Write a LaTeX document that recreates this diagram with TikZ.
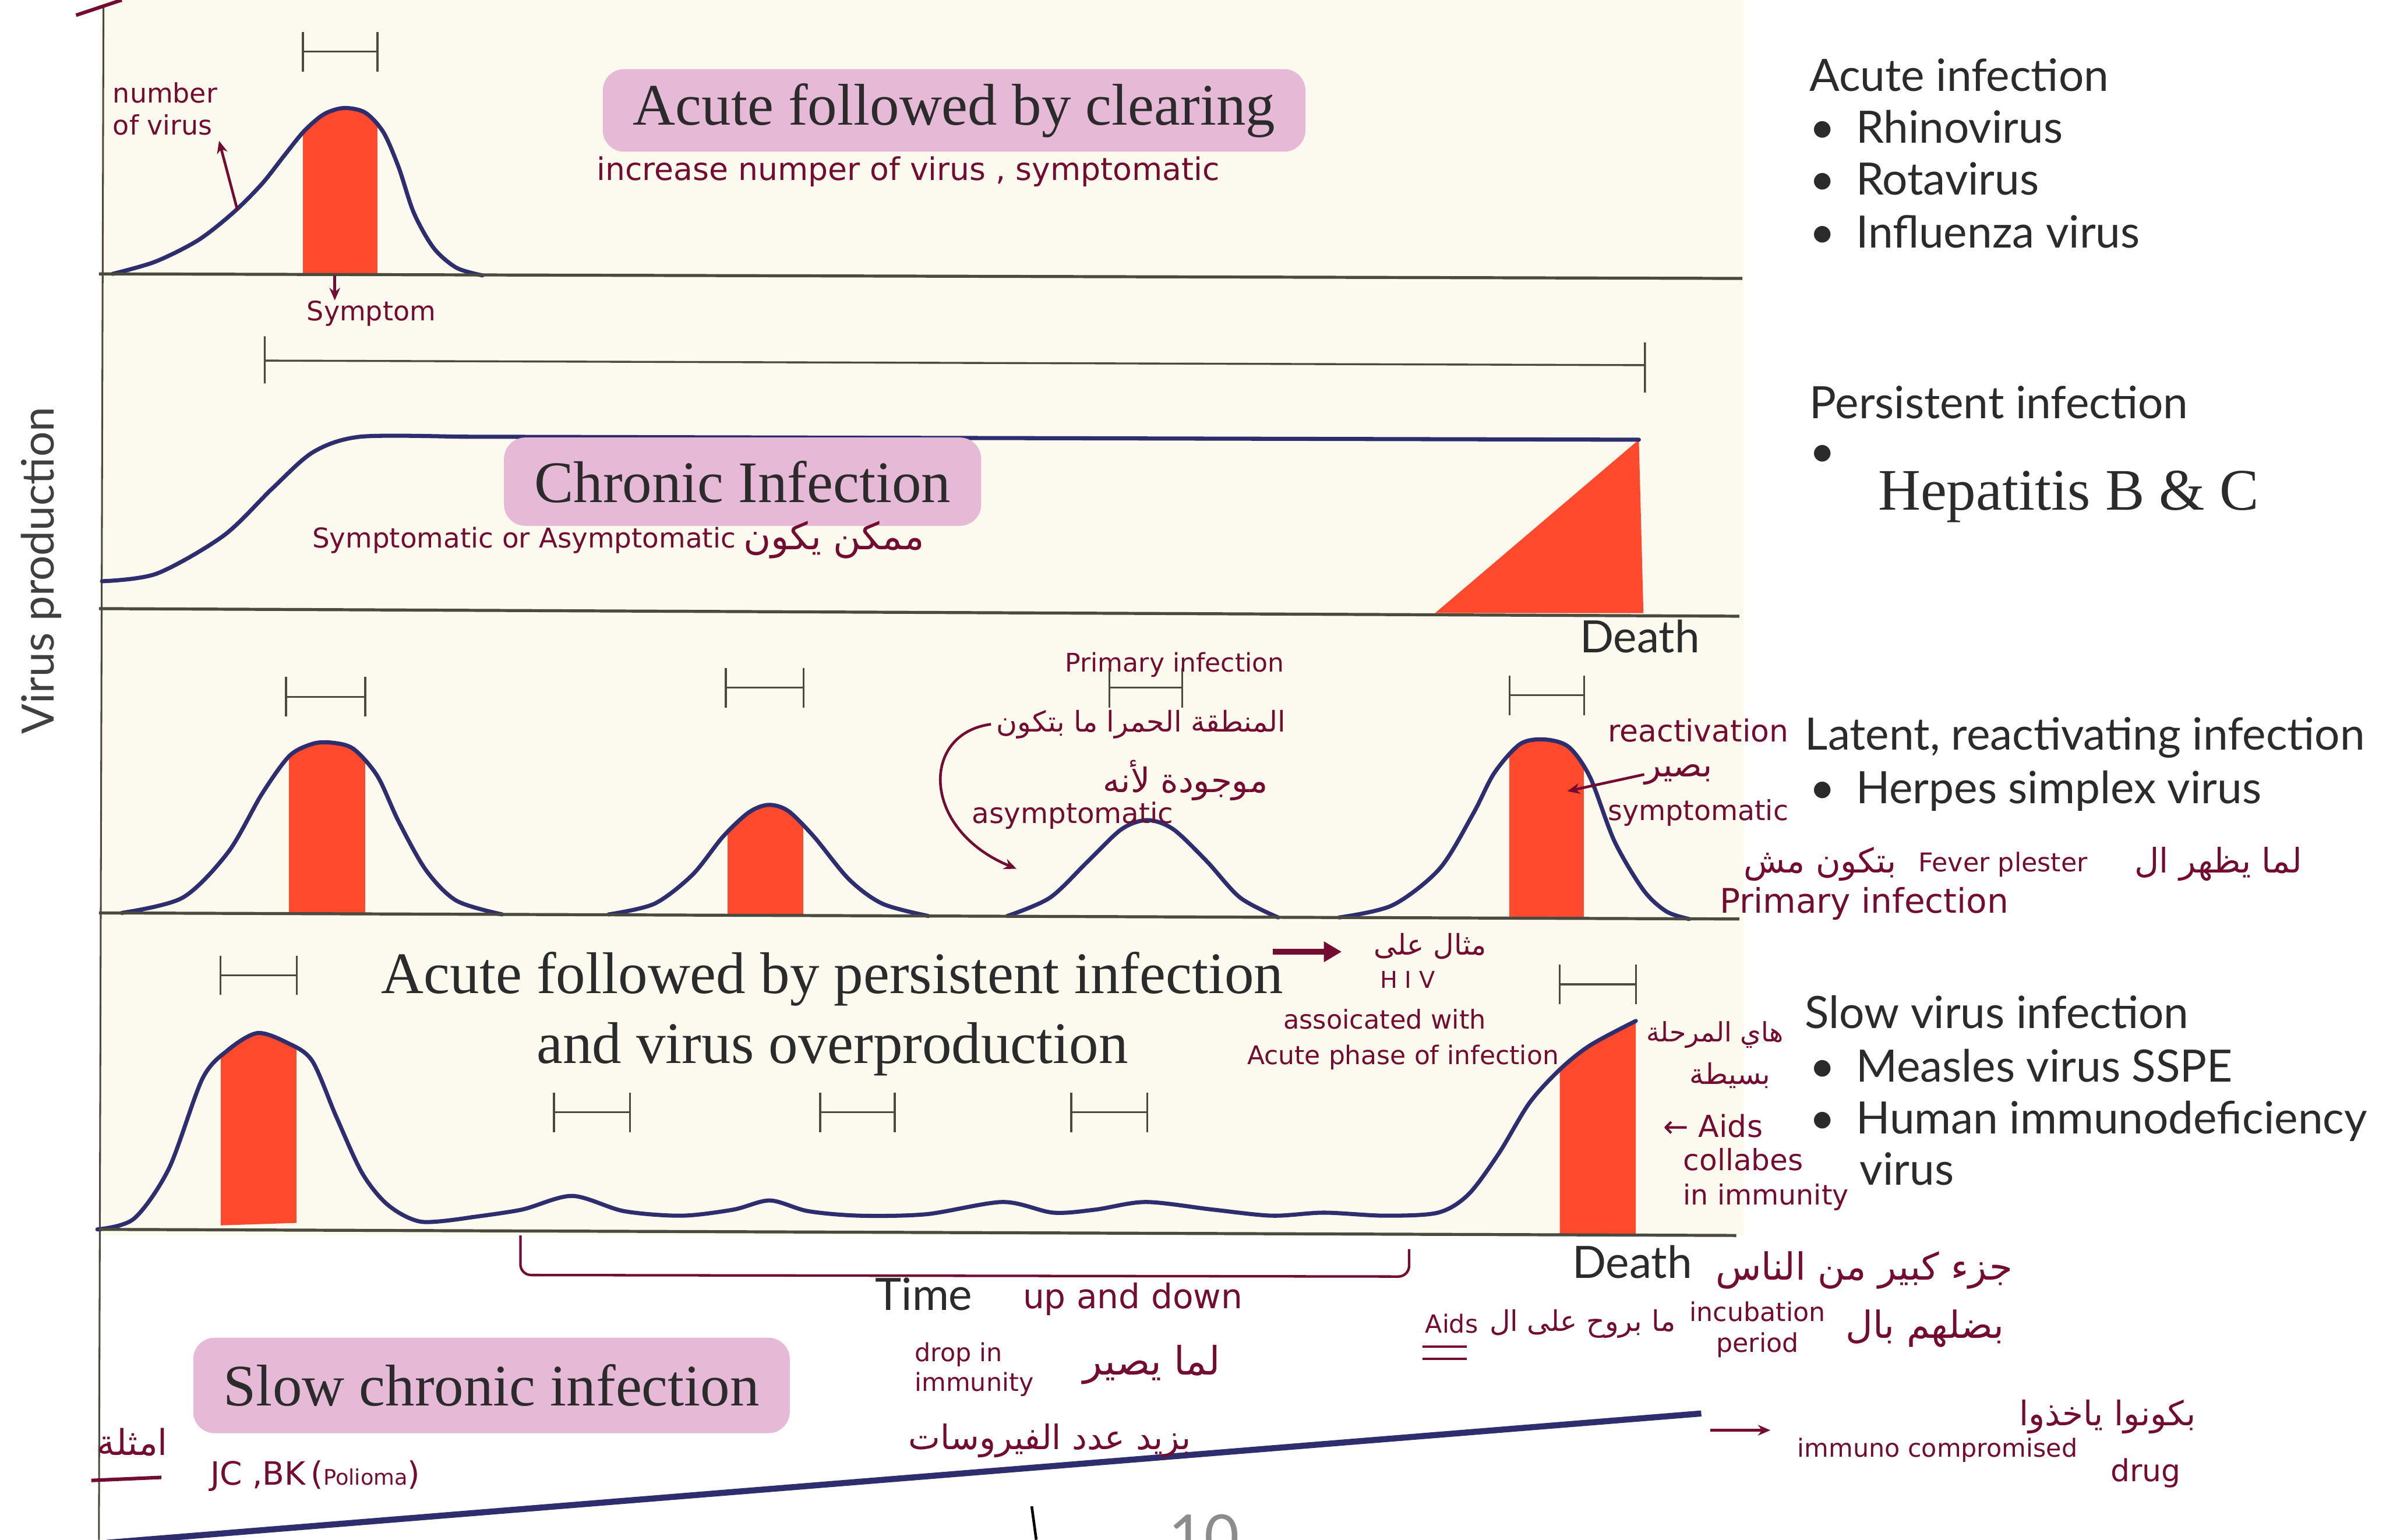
\documentclass[tikz,border=0pt]{standalone}
\usepackage{fontspec}
\setmainfont{Liberation Serif}
\newfontfamily\gill{Lato}
\newfontfamily\hand{DejaVu Sans}
\newfontfamily\arabicfont[Script=Arabic]{DejaVu Sans}
\TeXXeTstate=1
\usetikzlibrary{arrows.meta,positioning}

\definecolor{cream}{HTML}{FCFAEE}
\definecolor{curvenavy}{HTML}{2E2D6E}
\definecolor{symred}{HTML}{FF4A2D}
\definecolor{hlpink}{HTML}{E6BAD6}
\definecolor{maroon}{HTML}{720C30}
\definecolor{axisgray}{HTML}{4B4A3E}
\definecolor{inkgray}{HTML}{2B2B2B}

\newcommand\setfs[1]{\fontsize{#1pt}{#1pt}\selectfont\setlength\baselineskip{1.2\baselineskip}}
\newcommand\itembul{\makebox[26pt][l]{\textbullet}}

\tikzset{
  panelline/.style={draw=axisgray, line width=1.7pt},
  virusline/.style={draw=curvenavy, line width=2.3pt, line join=round, line cap=round},
  durbar/.style={draw=axisgray, line width=1.1pt},
  redband/.style 2 args={path picture={\fill[symred] (#1,0) rectangle (#2,1012);}},
  titletext/.style={font=\setfs{33}, text=inkgray, inner sep=0pt, anchor=base},
  hlbox/.style={fill=hlpink, rounded corners=12pt},
  lbl/.style={font=\gill\setfs{25}, text=inkgray, inner sep=0pt, anchor=base west},
  note/.style={font=\hand\setfs{#1}, text=maroon, inner sep=0pt},
  note/.default=16,
  arnote/.style={font=\arabicfont\setfs{#1}, text=maroon, inner sep=0pt},
  arnote/.default=16,
  notearrow/.style={draw=maroon, line width=1.5pt, -{Stealth[length=7pt,width=6pt]}},
  fatarrow/.style={draw=maroon, line width=3.5pt, -{Triangle[length=10pt,width=11pt]}},
}

\begin{document}
\begin{tikzpicture}[x=0.03cm, y=-0.03cm]
\useasboundingbox (0,0) rectangle (1568,1012);
\fill[white] (0,0) rectangle (1568,1012);
\fill[cream] (66,0) rectangle (1146,812);

% axis
\draw[axisgray, line width=1pt] (68,4) -- (65,1012);
\draw[maroon, line width=2pt] (50,10) -- (80,0);
\node[lbl, anchor=center, rotate=90, text=black!75] (yaxis) at (27,375) {Virus production};

% acute followed by clearing
\draw[virusline, redband={199}{248}] plot[smooth] coordinates {(74,180) (102,172) (130,158) (153,140) (172,121) (187,102) (200,86) (213,75) (226,71) (240,74) (252,87) (262,110) (272,140) (285,163) (300,176) (317,181)};

% chronic
\fill[symred] (943,403) -- (1077,289) -- (1080,403) -- cycle;
\draw[virusline] plot[smooth] coordinates {(67,382) (103,377) (147,352) (179,321) (206,297) (237,287) (300,287)} -- (1077,289);

% latent, reactivating
\draw[virusline, redband={190}{240}] plot[smooth] coordinates {(80,600) (120,590) (150,560) (172,522) (190,497) (205,489) (217,488) (232,492) (248,510) (262,540) (280,572) (300,592) (330,601)};
\draw[virusline, redband={478}{528}] plot[smooth] coordinates {(400,601) (430,594) (455,575) (475,550) (492,534) (505,529) (518,533) (535,550) (558,578) (580,594) (610,602)};
\draw[virusline] plot[smooth] coordinates {(662,602) (690,590) (715,566) (737,545) (754,539) (771,545) (793,566) (815,590) (840,603)};
\draw[virusline, redband={992}{1041}] plot[smooth] coordinates {(880,603) (915,595) (946,571) (968,535) (982,508) (999,489) (1015,486) (1031,491) (1045,511) (1061,553) (1080,585) (1095,599) (1110,604)};

% acute followed by persistent
\draw[virusline, redband={145}{195}] plot[smooth] coordinates {(64,808) (88,801) (111,768) (133,709) (150,690) (169,679) (188,685) (205,697) (221,734) (238,771) (255,792) (277,803) (310,800)};
\fill[symred] plot[smooth] coordinates {(1025,703) (1045,687) (1075,671)} -- (1075,812) -- (1025,811) -- cycle;
\draw[virusline] plot[smooth] coordinates {(310,800) (343,795) (376,786) (410,796) (448,799) (482,795) (506,789) (531,796) (565,799) (609,798) (659,790) (692,797) (720,795) (753,790) (797,795) (836,799) (870,797) (910,799) (945,797) (965,785) (985,758) (1005,725) (1025,703) (1045,687) (1075,671)};

% panel base lines
\draw[panelline] (65,180) -- (1145,183);
\draw[panelline] (65,400) -- (1143,405);
\draw[panelline] (65,600) -- (1143,604);
\draw[panelline] (65,808) -- (1141,812);

% duration bars
\foreach \xa/\xb/\yy in {199/248/34, 188/240/458, 477/528/452, 729/777/452, 992/1041/457, 145/195/641, 364/414/731, 539/588/731, 704/754/731, 1025/1075/647}
  \draw[durbar] (\xa,\yy-13) -- (\xa,\yy+13) (\xa,\yy) -- (\xb,\yy) (\xb,\yy-13) -- (\xb,\yy+13);
\draw[durbar] (174,221) -- (174,252) (174,237) -- (1081,240) (1081,225) -- (1081,258);

% slow chronic line
\coordinate (slowstart) at (70,1014);
\coordinate (slowend) at (1118,929);
\draw[curvenavy, line width=3.4pt] (slowstart) -- (slowend);

% titles
\node[titletext, hlbox, inner xsep=17pt, inner ysep=8pt] (clearing) at (627,82) {Acute followed by clearing};
\node[titletext, hlbox, inner xsep=17pt, inner ysep=13pt] (chronic) at (488,330) {Chronic Infection};
\node[titletext, hlbox, inner xsep=17pt, inner ysep=15pt] (slowchronic) at (323,924) {Slow chronic infection};
\node[titletext] (persist1) at (547,653) {Acute followed by persistent infection};
\node[titletext] (persist2) at (547,699) {and virus overproduction};

% right column
\node[lbl] (acuteinf) at (1189,60) {Acute infection};
\node[lbl] (rhino) at (1189,94) {\itembul Rhinovirus};
\node[lbl] (rota) at (1189,128) {\itembul Rotavirus};
\node[lbl] (influ) at (1189,163) {\itembul Influenza virus};
\node[lbl] (persistinf) at (1189,275) {Persistent infection};
\node[lbl] (hepbul) at (1189,307) {\textbullet};
\node[titletext, anchor=base west] (hepatitis) at (1234,335) {Hepatitis B \& C};
\node[lbl] (death1) at (1038,429) {Death};
\node[lbl] (latent) at (1186,493) {Latent, reactivating infection};
\node[lbl] (herpes) at (1189,528) {\itembul Herpes simplex virus};
\node[lbl] (slowvirus) at (1186,676) {Slow virus infection};
\node[lbl] (measles) at (1189,711) {\itembul Measles virus SSPE};
\node[lbl] (human) at (1189,745) {\itembul Human immunodeficiency};
\node[lbl] (hivword) at (1222,779) {virus};
\node[lbl] (death2) at (1033,840) {Death};
\node[lbl] (timelbl) at (575,861) {Time};

% notes, panel 1
\node[note=15, align=left, anchor=north west] (numvirus) at (74,54) {number\\of virus};
\coordinate (nvfoot) at (156,138);
\draw[notearrow, shorten >=3pt] (nvfoot) -- (numvirus.south east);
\node[note=15] (symptom) at (244,206) {Symptom};
\coordinate (symfoot) at (220,181);
\draw[notearrow] (symfoot) -- (symfoot |- symptom.north);
\node[note=17.5, anchor=west] (increase) at (392,113) {increase numper of virus , symptomatic};

% notes, panel 2
\node[note=15.3, anchor=west] (symor) at (205,355) {Symptomatic or Asymptomatic};
\node[arnote=21, right=4pt of symor] (mumkin) {\beginR ممكن يكون\endR};

% notes, panel 3
\node[note=14.4] (primary1) at (772,437) {Primary infection};
\node[arnote] (mintaqa) at (750,476) {\beginR المنطقة الحمرا ما بتكون\endR};
\node[arnote=19] (mawjuda) at (779,513) {\beginR موجودة لأنه\endR};
\node[note=15.8] (asympt) at (705,536) {asymptomatic};
\coordinate (asytip) at (668,571);
\draw[notearrow] ([xshift=-3pt]mintaqa.west) .. controls (605,482) and (605,545) .. (asytip);
\node[note=17] (reactiv) at (1116,480) {reactivation};
\node[arnote=19] (basir) at (1103,509) {\beginR بصير\endR};
\node[note=15.5] (sympt) at (1116,534) {symptomatic};
\coordinate (reactip) at (1030,520);
\draw[notearrow] (basir.west) -- (reactip);
\node[arnote=19, anchor=east] (lamma) at (1513,568) {\beginR لما يظهر ال\endR};
\node[note=14.5, left=26pt of lamma] (fever) {Fever plester};
\node[arnote=19, left=12pt of fever] (mish) {\beginR بتكون مش\endR};
\node[note=19, anchor=west] (primary2) at (1130,594) {Primary infection};

% notes, panel 4
\node[arnote] (mithal) at (940,622) {\beginR مثال على\endR};
\draw[fatarrow, shorten >=18pt] ([xshift=-6pt]persist1.north east) -- (persist1.north east -| mithal.west);
\node[note=13] (hiv) at (925,644) {H I V};
\node[note=14.6] (assoc) at (910,670) {assoicated with};
\node[note=14.4] (acutephase) at (922,695) {Acute phase of infection};
\node[arnote=15] (marhala) at (1127,680) {\beginR هاي المرحلة\endR};
\node[arnote] (basita) at (1137,707) {\beginR بسيطة\endR};
\node[note=17, anchor=west] (aidsarrow) at (1093,740) {← Aids};
\node[note=16.4, anchor=west] (collabes) at (1106,762) {collabes};
\node[note=15.5, anchor=west] (inimmun) at (1106,787) {in immunity};

% notes, below the time axis
\draw[maroon, line width=1.4pt, rounded corners=6pt] (342,812) -- (342,838) -- (926,839) -- (926,821);
\node[note=19, anchor=west] (updown) at (672,854) {up and down};
\node[note=14, align=left, anchor=west] (dropin) at (601,900) {drop in\\immunity};
\node[arnote=22] (lammayasir) at (757,897) {\beginR لما يصير\endR};
\node[arnote=19] (bizid) at (690,947) {\beginR بزيد عدد الفيروسات\endR};
\node[arnote=21] (juz) at (1225,835) {\beginR جزء كبير من الناس\endR};
\node[note=14] (aids) at (954,870) {Aids};
\draw[maroon, line width=1.3pt] (935,885) -- (964,885) (935,893) -- (964,893);
\node[arnote, right=6pt of aids] (mabruh) {\beginR ما بروح على ال\endR};
\node[note=14.5, align=center] (incub) at (1155,874) {incubation\\period};
\node[arnote=21] (bidallhum) at (1265,873) {\beginR بضلهم بال\endR};
\node[arnote=20] (amthila) at (87,948) {\beginR امثلة\endR};
\draw[maroon, line width=2pt] (60,973) -- (106,971);
\node[note=18, anchor=west] (jcbk) at (138,970) {JC ,BK\,({\setfs{12}Polioma})};
\node[note=14, anchor=west] (immuno) at (1181,953) {immuno compromised};
\coordinate (arrfoot) at (1124,940);
\draw[notearrow, shorten >=15pt] (arrfoot) -- (arrfoot -| immuno.west);
\node[note=17] (drug) at (1410,968) {drug};
\node[arnote=19] (bikunu) at (1385,931) {\beginR بكونوا ياخذوا\endR};

% page number, cut at the edge
\draw[black, line width=1.5pt] (678,990) -- (681,1012);
\node[lbl, text=black!45, font=\gill\setfs{34}, anchor=north west] (pageno) at (768,995) {10};
\end{tikzpicture}
\end{document}
